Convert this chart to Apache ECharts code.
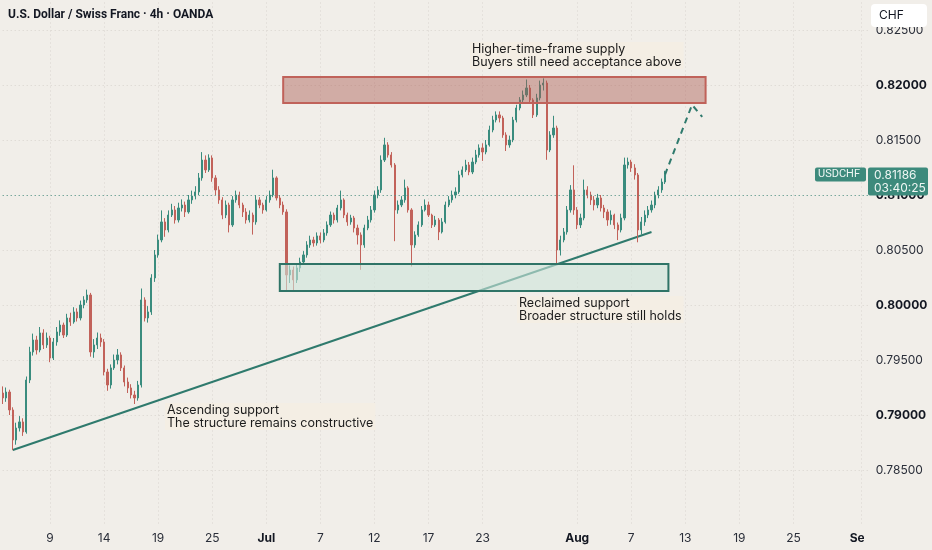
<!DOCTYPE html>
<html><head><meta charset="utf-8">
<script src="https://cdn.jsdelivr.net/npm/echarts@6/dist/echarts.min.js"></script>
<style>html,body{margin:0;padding:0;background:#f1eee9;}#c{width:932px;height:550px;}</style>
</head><body><div id="c"></div>
<script>
// ---- data (4 bars per trading day) ----
const firstOpen = 0.7920;
const closes = [
0.79155,0.79209,0.79046,0.78773,0.78882,0.78937,0.78846,0.79318,0.79573,0.79682,
0.79591,0.79746,0.79637,0.79700,0.79518,0.79664,0.79755,0.79818,0.79727,0.79882,
0.79846,0.79937,0.79882,0.80000,0.80046,0.80091,0.79573,0.79637,0.79700,0.79664,
0.79391,0.79273,0.79428,0.79500,0.79546,0.79428,0.79300,0.79246,0.79182,0.79155,
0.79273,0.80046,0.79882,0.79937,0.80246,0.80455,0.80591,0.80755,0.80682,0.80818,
0.80864,0.80773,0.80882,0.80909,0.80846,0.80955,0.80991,0.81028,0.81155,0.81318,
0.81228,0.81337,0.81155,0.81046,0.80955,0.80818,0.80909,0.80728,0.80955,0.81000,
0.80909,0.80846,0.80773,0.80818,0.80755,0.80955,0.80909,0.80864,0.80955,0.81000,
0.81155,0.80973,0.80909,0.80846,0.80273,0.80318,0.80228,0.80337,0.80391,0.80455,
0.80546,0.80591,0.80564,0.80628,0.80591,0.80655,0.80728,0.80818,0.80773,0.80882,
0.80955,0.80818,0.80755,0.80791,0.80700,0.80637,0.80546,0.80700,0.80773,0.80864,
0.81000,0.81046,0.81318,0.81455,0.81364,0.81273,0.80864,0.80909,0.80955,0.81064,
0.80864,0.80546,0.80637,0.80728,0.80864,0.80909,0.80818,0.80728,0.80773,0.80664,
0.80755,0.80909,0.80955,0.81000,0.81028,0.81182,0.81228,0.81273,0.81209,0.81300,
0.81364,0.81428,0.81391,0.81455,0.81591,0.81682,0.81728,0.81700,0.81546,0.81455,
0.81500,0.81682,0.81791,0.81864,0.81909,0.81973,0.81864,0.81728,0.81882,0.82000,
0.82018,0.81409,0.81546,0.81609,0.80500,0.80591,0.80664,0.80864,0.81046,0.80864,
0.80728,0.80791,0.81046,0.81000,0.80955,0.80909,0.80973,0.80882,0.80846,0.80773,
0.80818,0.80728,0.80682,0.80791,0.81273,0.81300,0.81246,0.81182,0.80682,0.80755,
0.80818,0.80864,0.80909,0.81000,0.81046,0.81118,0.81186];
const highs = [
.7926,.7925,.7923,.7907,.7893,.7899,.7897,.7935,.7962,.7974,
.7972,.7980,.7978,.7975,.7972,.7970,.7980,.7986,.7984,.7992,
.7993,.7998,.7997,.8004,.8008,.8014,.8011,.7969,.7975,.7974,
.7969,.7942,.7946,.7955,.7960,.7957,.7945,.7934,.7928,.7922,
.7931,.8015,.8007,.7999,.8028,.8050,.8064,.8086,.8079,.8086,
.8092,.8090,.8093,.8096,.8094,.8100,.8104,.8108,.8120,.8139,
.8136,.8137,.8136,.8118,.8108,.8098,.8095,.8093,.8099,.8104,
.8103,.8093,.8088,.8086,.8084,.8100,.8098,.8093,.8099,.8104,
.8123,.8117,.8100,.8094,.8087,.8036,.8035,.8038,.8043,.8049,
.8058,.8063,.8062,.8066,.8066,.8069,.8076,.8085,.8084,.8091,
.8104,.8097,.8084,.8082,.8081,.8073,.8066,.8073,.8081,.8090,
.8104,.8108,.8136,.8152,.8148,.8139,.8129,.8095,.8099,.8114,
.8108,.8088,.8067,.8076,.8090,.8096,.8094,.8083,.8081,.8079,
.8079,.8094,.8099,.8104,.8107,.8122,.8126,.8132,.8130,.8134,
.8141,.8146,.8147,.8150,.8163,.8172,.8176,.8176,.8172,.8157,
.8154,.8171,.8182,.8189,.8195,.8205,.8200,.8188,.8192,.8204,
.8206,.8204,.8158,.8172,.8163,.8063,.8070,.8090,.8109,.8127,
.8089,.8083,.8114,.8108,.8103,.8099,.8101,.8100,.8091,.8087,
.8086,.8083,.8075,.8083,.8134,.8134,.8132,.8128,.8120,.8080,
.8086,.8090,.8095,.8103,.8108,.8115,.8122];
const lows = [
.7910,.7912,.7900,.7868,.7873,.7885,.7881,.7883,.7929,.7954,
.7955,.7957,.7960,.7961,.7948,.7950,.7963,.7972,.7970,.7971,
.7981,.7983,.7985,.7986,.7997,.8002,.7953,.7952,.7960,.7962,
.7936,.7922,.7924,.7941,.7946,.7940,.7926,.7920,.7915,.7910,
.7913,.7925,.7985,.7984,.7991,.8021,.8043,.8057,.8062,.8066,
.8080,.8074,.8075,.8085,.8080,.8083,.8092,.8096,.8100,.8113,
.8120,.8121,.8112,.8100,.8092,.8078,.8079,.8066,.8071,.8093,
.8088,.8080,.8074,.8075,.8064,.8073,.8088,.8083,.8085,.8093,
.8098,.8095,.8088,.8082,.8013,.8020,.8013,.8020,.8030,.8037,
.8043,.8052,.8053,.8054,.8056,.8057,.8063,.8071,.8074,.8075,
.8086,.8079,.8072,.8073,.8066,.8055,.8032,.8052,.8068,.8075,
.8084,.8097,.8102,.8130,.8134,.8125,.8058,.8083,.8089,.8093,
.8084,.8035,.8052,.8062,.8071,.8085,.8080,.8070,.8071,.8059,
.8065,.8074,.8089,.8093,.8097,.8101,.8116,.8121,.8118,.8119,
.8128,.8134,.8131,.8137,.8144,.8157,.8166,.8166,.8152,.8140,
.8143,.8148,.8166,.8177,.8184,.8189,.8184,.8170,.8171,.8186,
.8195,.8132,.8139,.8152,.8038,.8045,.8057,.8064,.8084,.8082,
.8069,.8070,.8077,.8097,.8091,.8086,.8088,.8085,.8079,.8072,
.8073,.8069,.8059,.8066,.8077,.8124,.8121,.8114,.8057,.8064,
.8072,.8079,.8084,.8088,.8097,.8102,.8110];
const barCount = 257;                 // bars incl. empty future space
const tickBars = [14,30,46,62,78,94,110,126,142,170,186,202,218,234,254];
const tickLabels = ['9','14','19','25','Jul','7','12','17','23','Aug','7','13','19','25','Sep'];
const monthLabels = ['Jul','Aug','Sep'];
const supplyZone = [83, 208, 0.82073, 0.81836];
const supportZone = [82, 197, 0.80373, 0.80127];
const trendLine = [[3, 0.78682], [192, 0.80664]];
const projection = [[196, 0.81186], [204, 0.81820], [207, 0.81710]];
const lastPrice = 0.81186;
const countdown = '03:40:25';
const symbolName = 'USDCHF';

// ---- build ----
const categories = Array.from({length: barCount}, (_, i) => String(i));
const candles = closes.map((c, i) => [i === 0 ? firstOpen : closes[i - 1], c, lows[i], highs[i]]);
const UP = '#3a8c7e', DOWN = '#c2625a', TEAL = '#2f7a6d';
const FONT = 'Inter, "Noto Sans", sans-serif';
const isTick = (idx) => tickBars.indexOf(idx) >= 0;

const chart = echarts.init(document.getElementById('c'), null, {renderer: 'canvas'});
const option = {
  animation: false,
  backgroundColor: '#f1eee9',
  textStyle: {fontFamily: FONT},
  grid: {left: 2.7, right: 64.2, top: 2.5, bottom: 25},
  xAxis: {
    type: 'category', data: categories, boundaryGap: false,
    axisLine: {show: false}, axisTick: {show: false},
    axisLabel: {
      interval: (idx) => isTick(idx), margin: 7, color: '#2a2e39', fontSize: 12, fontFamily: FONT,
      formatter: (v, idx) => { const k = tickBars.indexOf(Number(v)); if (k < 0) return ''; const t = tickLabels[k]; return monthLabels.indexOf(t) >= 0 ? '{b|' + t + '}' : t; },
      rich: {b: {fontWeight: 'bold', color: '#131722', fontSize: 12, fontFamily: FONT}}
    },
    splitLine: {show: true, interval: (idx) => isTick(idx), lineStyle: {color: '#d8d4ce', type: [1, 3], width: 1}}
  },
  yAxis: {
    type: 'value', position: 'right', min: 0.78, max: 0.8275, interval: 0.005,
    axisLine: {show: false}, axisTick: {show: false},
    axisLabel: {
      margin: 8, color: '#2a2e39', fontSize: 12, fontFamily: FONT, showMaxLabel: false, showMinLabel: false,
      formatter: (v) => { if (v < 0.7825 || v > 0.8260) return ''; const s = v.toFixed(5); return Math.abs(v * 100 - Math.round(v * 100)) < 1e-6 ? '{b|' + s + '}' : s; },
      rich: {b: {fontWeight: 'bold', color: '#131722', fontSize: 12, fontFamily: FONT}}
    },
    splitLine: {show: true, showMinLine: false, showMaxLine: false, lineStyle: {color: '#d8d4ce', type: [1, 3], width: 1}}
  },
  series: [
    {
      type: 'custom', z: 2, silent: true, data: [[0, lastPrice]],
      renderItem: (params, api) => {
        const a = api.coord(trendLine[0]), b = api.coord(trendLine[1]);
        return {type: 'line', shape: {x1: a[0], y1: a[1], x2: b[0], y2: b[1]}, style: {stroke: TEAL, lineWidth: 2}};
      }
    },
    {
      type: 'candlestick', z: 3, data: candles, barWidth: 1.7, silent: true,
      itemStyle: {color: UP, color0: DOWN, borderColor: UP, borderColor0: DOWN, borderWidth: 1},
      markLine: {
        silent: true, symbol: ['none', 'none'], animation: false,
        data: [{yAxis: lastPrice}],
        lineStyle: {color: '#4a9083', type: [1, 3], width: 1},
        label: {show: false}
      }
    },
    {
      type: 'custom', z: 5, silent: true, data: [[0, lastPrice]],
      renderItem: (params, api) => {
        const rect = (z, fill, stroke) => {
          const p1 = api.coord([z[0], z[2]]), p2 = api.coord([z[1], z[3]]);
          return {type: 'rect', shape: {x: p1[0], y: p1[1], width: p2[0] - p1[0], height: p2[1] - p1[1]},
                  style: {fill: fill, stroke: stroke, lineWidth: 2}};
        };
        const pts = projection.map(p => api.coord(p));
        return {type: 'group', children: [
          rect(supplyZone, 'rgba(170,90,82,0.45)', '#c0625a'),
          rect(supportZone, 'rgba(205,228,218,0.6)', '#2f7467'),
          {type: 'polyline', shape: {points: pts}, style: {stroke: TEAL, lineWidth: 2, fill: null, lineDash: [6, 5]}}
        ]};
      }
    }
  ]
};
chart.setOption(option);

const py = chart.convertToPixel({yAxisIndex: 0}, lastPrice);
const note = (x, y, text) => ({
  type: 'text', z: 50, x: x, y: y,
  style: {text: text, font: '12.5px ' + FONT, fill: '#1c1c1c', backgroundColor: '#f4eee4', padding: [1, 2], lineHeight: 12.5}
});
chart.setOption({
  graphic: [
    {type: 'text', z: 50, x: 8, y: 9, style: {text: 'U.S. Dollar / Swiss Franc · 4h · OANDA', font: 'bold 12px Roboto, sans-serif', fill: '#131722'}},
    {type: 'rect', z: 50, shape: {x: 871, y: 4, width: 56, height: 23, r: 4}, style: {fill: '#ffffff'}},
    {type: 'text', z: 51, x: 879, y: 9, style: {text: 'CHF', font: '12px ' + FONT, fill: '#131722'}},
    note(470, 42, 'Higher-time-frame supply\nBuyers still need acceptance above'),
    note(517, 296, 'Reclaimed support\nBroader structure still holds'),
    note(165, 403, 'Ascending support\nThe structure remains constructive'),
    {type: 'rect', z: 50, shape: {x: 864, y: 527, width: 68, height: 23}, style: {fill: '#f1eee9'}},
    {type: 'rect', z: 50, shape: {x: 815, y: py - 7, width: 51, height: 14, r: 2}, style: {fill: '#3d8a7c'}},
    {type: 'text', z: 51, x: 818, y: py - 5.5, style: {text: symbolName, font: '11px Roboto, sans-serif', fill: '#eef6f3'}},
    {type: 'rect', z: 50, shape: {x: 868, y: py - 7, width: 60, height: 28, r: 2}, style: {fill: '#3d8a7c'}},
    {type: 'text', z: 51, x: 874, y: py - 6, style: {text: lastPrice.toFixed(5) + '\n' + countdown, font: '12px ' + FONT, fill: '#eef6f3', lineHeight: 13}}
  ]
});
</script></body></html>
